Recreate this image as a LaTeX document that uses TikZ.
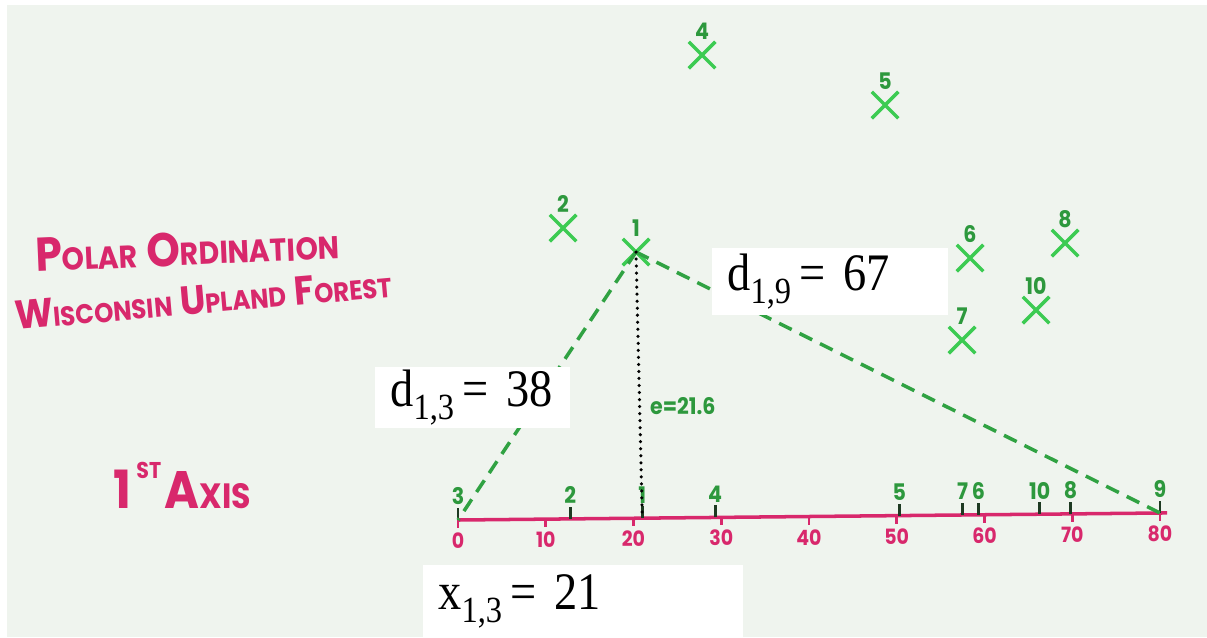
\documentclass[tikz,border=0pt]{standalone}
\usepackage{fontspec}
\setmainfont{Liberation Serif}
\newfontfamily\boxfont{Liberation Serif}[FakeStretch=0.88]
\newfontfamily\handfont{Poppins}[FakeStretch=0.9]
\usetikzlibrary{shapes.misc,calc}

\definecolor{board}{HTML}{EFF4EE}
\definecolor{marker}{HTML}{D8286C}
\definecolor{ptgreen}{HTML}{3CCB52}
\definecolor{inkdark}{HTML}{1E3A22}

\newcommand{\lowidx}[1]{\raisebox{-0.55ex}{\fontsize{21}{21}\selectfont #1}}
\newcommand{\sm}[1]{{\fontsize{18}{18}\selectfont #1}}
\newcommand{\smsite}[1]{{\fontsize{15.5}{15.5}\selectfont #1}}

\begin{document}
\begin{tikzpicture}[x=0.02cm, y=-0.02cm,
    xmark/.style={draw=ptgreen, cross out, line width=2pt, minimum size=0.46cm, inner sep=0pt},
    ptlabel/.style={text=ptgreen!75!black, font=\handfont\bfseries\fontsize{13}{13}\selectfont, inner sep=1pt},
    axislabel/.style={text=marker, font=\handfont\bfseries\fontsize{12}{12}\selectfont, inner sep=2pt},
    handtext/.style={text=marker, font=\handfont\bfseries\fontsize{27}{27}\selectfont, inner sep=0pt},
    chord/.style={draw=ptgreen!80!black, line width=2pt, dash pattern=on 8pt off 5pt},
    drop/.style={draw=black, line width=2pt, dash pattern=on 0pt off 4pt, line cap=round},
    numbox/.style={fill=white, anchor=north west, inner xsep=0.3cm, inner ysep=0pt, align=left,
        font=\boxfont\fontsize{30}{30}\selectfont}]
    % board
    \useasboundingbox (0,0) rectangle (1207,637);
    \fill[board] (7,5) rectangle (1207,637);

    % titles
    \node[handtext, anchor=base west, rotate=2.5] (title) at (36,272) {P\sm{OLAR} O\sm{RDINATION}};
    \node[handtext, anchor=base west, rotate=5, font=\handfont\bfseries\fontsize{23}{23}\selectfont] (site) at (16,330) {W\smsite{ISCONSIN} U\smsite{PLAND} F\smsite{OREST}};
    \node[handtext, anchor=base west, font=\handfont\bfseries\fontsize{30}{30}\selectfont] (axisname) at (113,508) {1\hspace{3pt}\raisebox{1.0ex}{\fontsize{13}{13}\selectfont ST}\hspace{2pt}A{\fontsize{20}{20}\selectfont XIS}};

    % first axis
    \coordinate (a0) at (458,520);
    \coordinate (a80) at (1160,513);
    \draw[marker, line width=2pt] (a0) -- ($(a0)!1.01!(a80)$);
    \foreach \t in {0,10,...,80}
        \draw[marker, line width=1.5pt] ($(a0)!{\t/80}!(a80)$) -- ++(0,8) node[below, axislabel] {\t};

    % stands
    \foreach \n/\px/\py in {1/636/252, 2/563/228, 4/702/55, 5/885/105, 6/970/258, 7/962/340, 8/1065/243, 10/1036/310}
        \node[xmark, label={[ptlabel]above:\n}] (p\n) at (\px,\py) {};

    % projections on the axis
    \foreach \n/\v in {3/0, 2/12.8, 1/21, 4/29.3, 5/50.3, 7/57.5, 6/59.3, 10/66.3, 8/69.8, 9/80}{
        \coordinate (q\n) at ($(a0)!{\v/80}!(a80)$);
        \draw[inkdark, line width=1.6pt] (q\n) -- ++(0,-12) node[above, ptlabel] {\n};
    }

    % distances from stand 1
    \draw[chord] (p1.center) -- (q3);
    \draw[chord] (p1.center) -- (q9);
    \draw[drop] (p1.center) -- (q1) node[pos=0.58, right=4pt, ptlabel, font=\handfont\bfseries\fontsize{13}{13}\selectfont] {e=21.6};

    % values
    \node[numbox, text width=3.3cm, minimum height=1.22cm] (d13) at (375,367) {d\lowidx{1,3}\,=\ 38};
    \node[numbox, text width=4.12cm, minimum height=1.34cm] (d19) at (712,248) {d\lowidx{1,9}\,=\ 67};
    \node[numbox, text width=5.8cm, minimum height=1.44cm] (x13) at (423,565) {x\lowidx{1,3}\,=\ 21};
\end{tikzpicture}
\end{document}
